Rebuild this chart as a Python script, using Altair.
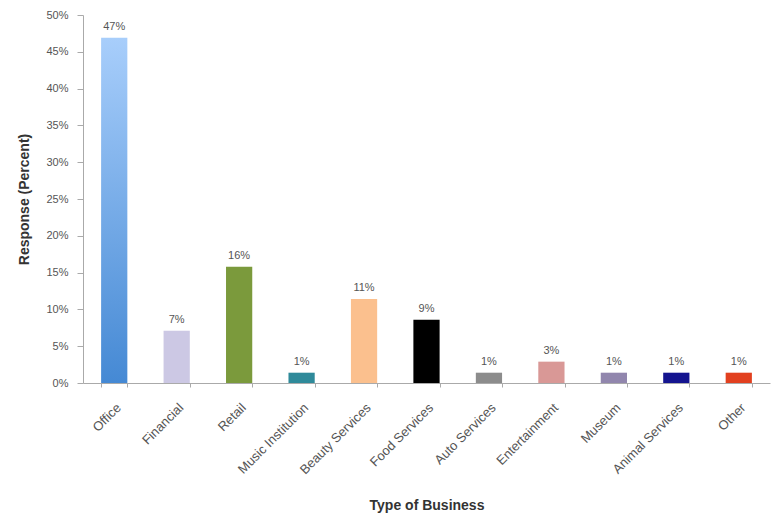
import altair as alt
import pandas as pd

categories = ["Office", "Financial", "Retail", "Music Institution", "Beauty Services",
              "Food Services", "Auto Services", "Entertainment", "Museum",
              "Animal Services", "Other"]
values = [46.9, 7.1, 15.8, 1.4, 11.4, 8.6, 1.4, 2.9, 1.4, 1.4, 1.4]
labels = ["47%", "7%", "16%", "1%", "11%", "9%", "1%", "3%", "1%", "1%", "1%"]
colors = ["#5e9de3", "#ccc8e4", "#7b9a3c", "#2f8a9a", "#fbc08e", "#000000",
          "#8c8c8c", "#d99896", "#9186ad", "#14148f", "#e2401f"]

df = pd.DataFrame({"cat": categories, "val": [v / 100 for v in values],
                   "lab": labels, "col": colors})

x = alt.X("cat:N", sort=categories, title="Type of Business",
          scale=alt.Scale(paddingInner=0.58, paddingOuter=0.29),
          axis=alt.Axis(labelAngle=-45, labelFont="Liberation Sans", labelFontSize=13,
                        labelColor="#555555", titleFont="Liberation Sans",
                        titleFontSize=14, titleColor="#333333", titleFontWeight="bold",
                        titlePadding=22, domainColor="#aaaaaa", tickColor="#aaaaaa",
                        tickBand="extent", tickSize=4, labelPadding=14))
y = alt.Y("val:Q", title="Response (Percent)",
          scale=alt.Scale(domain=[0, 0.5]),
          axis=alt.Axis(format=".0%", values=[i / 100 for i in range(0, 55, 5)],
                        grid=False, labelFont="Liberation Sans", labelFontSize=11,
                        labelColor="#555555", titleFont="Liberation Sans",
                        titleFontSize=14, titleColor="#333333", titleFontWeight="bold",
                        titlePadding=14, domainColor="#aaaaaa", tickColor="#aaaaaa",
                        tickSize=6, labelPadding=9))

base = alt.Chart(df)
bars = base.transform_filter(alt.datum.cat != "Office").mark_bar().encode(
    x=x, y=y, color=alt.Color("col:N", scale=None))
office = base.transform_filter(alt.datum.cat == "Office").mark_bar(
    color=alt.Gradient(gradient="linear", x1=0, y1=1, x2=0, y2=0,
                       stops=[alt.GradientStop(color="#4589d4", offset=0),
                              alt.GradientStop(color="#a8cefb", offset=1)])
).encode(x=x, y=y)
text = base.mark_text(dy=-11, font="Liberation Sans", fontSize=11, color="#555555").encode(
    x=x, y=y, text="lab:N")

chart = alt.layer(bars, office, text).properties(
    width=687, height=368,
    background="white",
    autosize=alt.AutoSizeParams(type="none"),
    padding={"left": 83, "top": 15, "right": 7, "bottom": 140},
).configure_view(stroke=None, strokeWidth=0)

chart.save("out.html", embed_options={"renderer": "svg", "actions": False})
